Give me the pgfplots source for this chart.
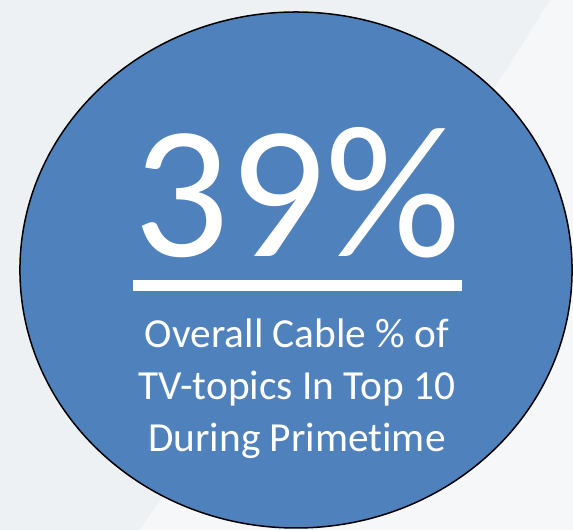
\documentclass[border=0pt]{standalone}
\usepackage{pgfplots}
\pgfplotsset{compat=1.18}
\usepackage{fontspec}
\setmainfont[Ligatures=NoCommon, RawFeature={-liga;-clig;-calt}]{Carlito}
\definecolor{bgA}{HTML}{EDF1F4}
\definecolor{bgB}{HTML}{F6F7F8}
\definecolor{circ}{HTML}{4F81BD}
\begin{document}
\begin{tikzpicture}
\begin{axis}[width=573bp, height=530bp, scale only axis,
  xmin=0, xmax=573, ymin=0, ymax=530, y dir=reverse,
  hide axis, clip=true, set layers=standard]
% background
\addplot[fill=bgA, draw=none, on layer=axis background] coordinates {(0,0) (573,0) (573,530) (0,530)} -- cycle;
\addplot[fill=bgB, draw=none, on layer=axis grid] coordinates {(550,0) (573,0) (573,530) (140,530) (157,505) (500,80)} -- cycle;
% circle (value 39 %)
\addplot[only marks, mark=*, mark size=258bp, on layer=pre main,
  mark options={fill=circ, draw=black, line width=1.5bp, xscale=1.07}]
  coordinates {(296,270)};
% underline bar
\addplot[white, line width=11bp, on layer=axis foreground] coordinates {(133,286) (462,286)};
\begin{pgfonlayer}{axis foreground}
\node[anchor=base, text=white, font=\fontsize{190}{200}\selectfont, inner sep=0pt]
  at (axis cs:297,257) {39\%};
\node[anchor=base, text=white, font=\fontsize{41.5}{48}\selectfont, inner sep=0pt]
  at (axis cs:297,348) {Overall Cable \% of};
\node[anchor=base, text=white, font=\fontsize{41.5}{48}\selectfont, inner sep=0pt]
  at (axis cs:297,400) {TV-topics In Top 10};
\node[anchor=base, text=white, font=\fontsize{41.5}{48}\selectfont, inner sep=0pt]
  at (axis cs:297,452) {During Primet{}ime};
\end{pgfonlayer}
\end{axis}
\end{tikzpicture}
\end{document}
